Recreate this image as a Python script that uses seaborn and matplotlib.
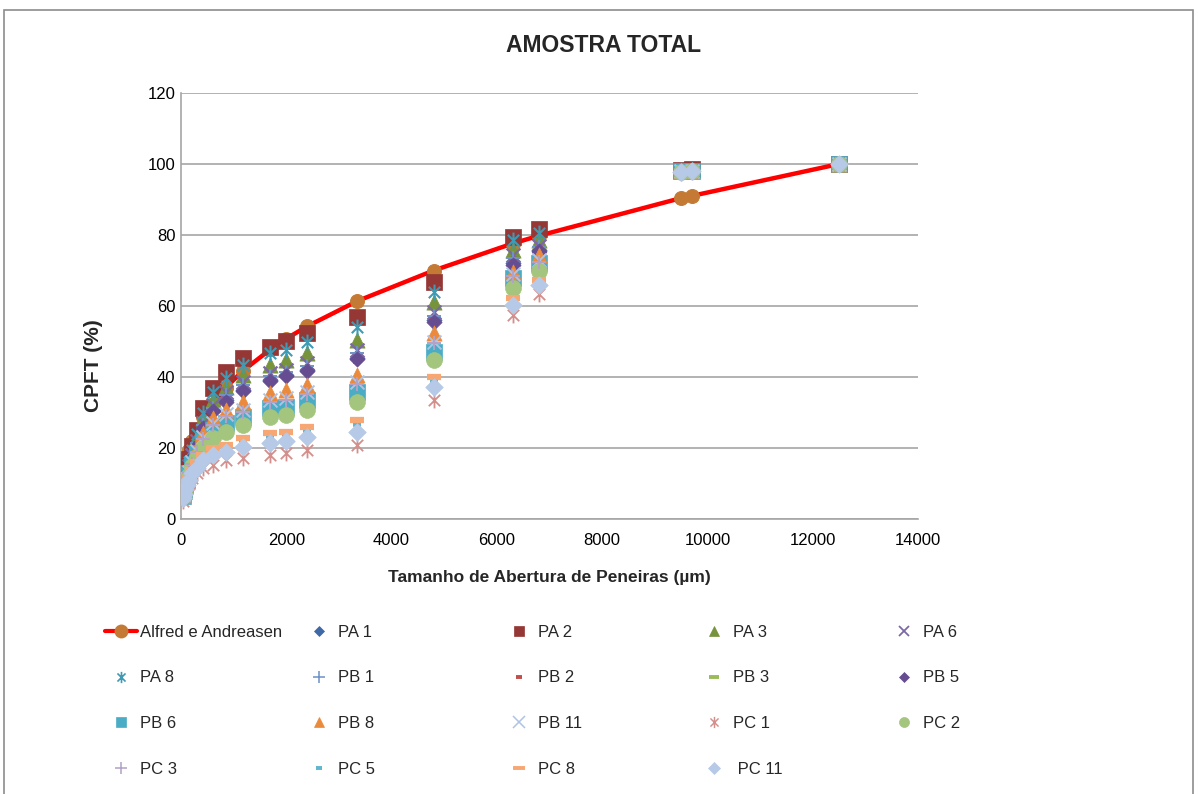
import matplotlib
matplotlib.use("Agg")
import matplotlib.pyplot as plt
import seaborn as sns
import pandas as pd
from matplotlib.lines import Line2D
from matplotlib.patches import Rectangle
from matplotlib.path import Path

# ---------------- data ----------------
sieves = [38, 53, 75, 106, 150, 212, 300, 425, 600, 850, 1180, 1700, 2000,
          2400, 3350, 4800, 6300, 6800, 9500, 9700, 12500]
andreasen = [11.7, 13.2, 15.1, 17.1, 19.5, 22.1, 25.2, 28.6, 32.5, 37.0, 41.8,
             47.8, 50.8, 54.3, 61.4, 70.0, 77.6, 79.8, 90.4, 91.0, 100]

pa1 = [7.5, 9, 10.5, 12, 14.5, 17.5, 21, 26, 30.7, 33.5, 36.3, 39.2, 40.6, 42, 45.4, 56, 72, 75.8, 98, 98, 100]
pa2 = [9, 11, 13.5, 15, 17, 20.5, 25, 31.2, 36.9, 41.4, 45.3, 48.5, 50.2, 52.4, 57, 66.8, 79.4, 81.7, 98.3, 98.5, 100]
pa3 = [8, 10, 11.5, 13, 15.5, 19, 23, 28.4, 33.5, 37.2, 40.6, 43.4, 44.8, 46.7, 50.4, 61.1, 75.8, 78.6, 98, 98.2, 100]
pa6 = [8, 9.5, 11, 12.5, 15, 18, 22, 27, 32, 35.8, 38.6, 41, 42, 44, 47.6, 58.3, 74.4, 77, 98, 98, 100]
pa8 = [8.5, 10.5, 12, 13.5, 16, 19.5, 24, 30, 35.8, 39.7, 43.4, 46.8, 47.6, 50, 54, 64, 78.6, 80.5, 98.2, 98.3, 100]
pb1 = [7.8, 9.3, 10.8, 12.3, 14.8, 17.8, 21.5, 26.5, 31.3, 35, 37.8, 40.2, 41.3, 43.2, 46.8, 57.3, 73.5, 76.5, 98, 98, 100]
pb2 = [7.5, 9, 10.5, 12, 14.5, 17.3, 21, 26, 30.5, 33.5, 36, 39, 40, 41.5, 44.6, 56, 72, 76, 98, 98, 100]
pb3 = [6.8, 8, 9.7, 11.2, 13.2, 15.7, 18.5, 21.5, 24.5, 26.5, 28.2, 30.5, 31, 33, 35.2, 46.5, 67, 71.5, 97.8, 98, 100]
pb5 = [7.3, 8.8, 10.3, 11.8, 14.2, 17.2, 20.7, 25.5, 30.3, 33, 36, 38.8, 40.2, 41.6, 45, 55.5, 71.5, 75.5, 98, 98, 100]
pb6 = [6.5, 8, 9.5, 11, 13, 15.5, 18.5, 22, 25, 27, 28.7, 31.2, 31.5, 33.5, 35.8, 47, 67.9, 72, 98, 98, 100]
pb8 = [7, 8.5, 10, 11.5, 13.5, 16.5, 20, 24.2, 28.4, 30.7, 33, 35.5, 36.3, 37.7, 40.5, 52.4, 69.6, 74.4, 98, 98, 100]
pb11 = [6.8, 8.2, 9.8, 11.2, 13.2, 16, 19.2, 23, 27, 29.5, 30.7, 33.5, 34, 35.8, 38.6, 50, 69, 73, 98, 98, 100]
pc1 = [5, 6, 7.5, 8.5, 10, 11.5, 13, 14.4, 15.2, 16.6, 17.2, 18, 18.6, 19.4, 20.8, 33.5, 57.5, 63.3, 97.5, 97.8, 100]
pc2 = [6.5, 7.5, 9, 10.5, 12.5, 15, 17.5, 20, 22.8, 24.5, 26.5, 28.7, 29.3, 30.7, 33, 44.8, 65, 70, 97.8, 98, 100]
pc3 = [6.6, 8, 9.5, 11, 13, 15.6, 18.8, 22.5, 26.5, 29, 30.2, 33, 33.5, 35.3, 38, 49.5, 68.5, 72.5, 98, 98, 100]
pc5 = [5.8, 6.8, 8, 9.2, 11, 13, 15.5, 17.5, 19.5, 20.3, 22.3, 23.5, 24, 25, 26.8, 39, 61.5, 67, 97.8, 98, 100]
pc8 = [6, 7, 8.3, 9.6, 11.5, 13.7, 16, 18, 20, 20.8, 22.8, 24.2, 24.5, 25.9, 27.9, 40, 62.3, 67.3, 97.8, 98, 100]
pc11 = [6, 7, 8.5, 9.5, 11, 13, 14.5, 16.6, 18, 18.9, 20.3, 21.4, 22, 23, 24.6, 37.3, 60.3, 66, 97.8, 98, 100]

series_names = ["PA 1", "PA 2", "PA 3", "PA 6", "PA 8", "PB 1", "PB 2", "PB 3", "PB 5",
                "PB 6", "PB 8", "PB 11", "PC 1", "PC 2", "PC 3", "PC 5", "PC 8", "PC 11"]
series_values = [pa1, pa2, pa3, pa6, pa8, pb1, pb2, pb3, pb5,
                 pb6, pb8, pb11, pc1, pc2, pc3, pc5, pc8, pc11]

x_ticks = [0, 2000, 4000, 6000, 8000, 10000, 12000, 14000]
y_ticks = [0, 20, 40, 60, 80, 100, 120]

# ---------------- styles ----------------
# Excel-like asterisk: vertical bar crossed by an X
ASTER = Path([(0, -1), (0, 1), (-0.72, -0.72), (0.72, 0.72), (-0.72, 0.72), (0.72, -0.72)],
             [Path.MOVETO, Path.LINETO, Path.MOVETO, Path.LINETO, Path.MOVETO, Path.LINETO])
LINEART = ("x", "+", "_", "aster")

styles = {
    "PA 1": dict(marker="D", color="#3F68A6", s=60, lw=0.5, ms=6),
    "PA 2": dict(marker="s", color="#953735", s=140, lw=0.5, ms=8),
    "PA 3": dict(marker="^", color="#77933C", s=120, lw=0.5, ms=8),
    "PA 6": dict(marker="x", color="#7B68A6", s=100, lw=1.6, ms=8),
    "PA 8": dict(marker="aster", color="#3E9BB5", s=130, lw=1.5, ms=9),
    "PB 1": dict(marker="+", color="#6F93C6", s=100, lw=1.4, ms=9),
    "PB 2": dict(marker="_", color="#C0504D", s=40, lw=4, ms=5),
    "PB 3": dict(marker="_", color="#9BBB59", s=80, lw=4, ms=8),
    "PB 5": dict(marker="D", color="#664D91", s=60, lw=0.5, ms=6),
    "PB 6": dict(marker="s", color="#4BACC6", s=130, lw=0.5, ms=8),
    "PB 8": dict(marker="^", color="#EB8A3C", s=120, lw=0.5, ms=8),
    "PB 11": dict(marker="x", color="#AFC3E3", s=100, lw=1.4, ms=9),
    "PC 1": dict(marker="aster", color="#D48E8B", s=130, lw=1.3, ms=9),
    "PC 2": dict(marker="o", color="#A4C57E", s=130, lw=0.5, ms=8),
    "PC 3": dict(marker="+", color="#B3A2C7", s=100, lw=1.4, ms=9),
    "PC 5": dict(marker="_", color="#5FB6D0", s=40, lw=4, ms=5),
    "PC 8": dict(marker="_", color="#F7A774", s=90, lw=4.5, ms=9),
    "PC 11": dict(marker="D", color="#B6C9E6", s=80, lw=0.5, ms=7),
}


def mk(m):
    return ASTER if m == "aster" else m


LINE_RED = "#FF0000"
CIRC = "#C47A34"
FONTS = ["Liberation Sans Narrow", "Liberation Sans", "DejaVu Sans"]

# ---------------- figure ----------------
sns.set_style("white")
plt.rcParams["font.family"] = FONTS

fig = plt.figure(figsize=(11.98, 7.94), dpi=100)
ax = fig.add_axes([181 / 1198, 1 - 519 / 794, (918 - 181) / 1198, (519 - 93) / 794])

# Andreasen curve
sns.lineplot(x=sieves, y=andreasen, ax=ax, color=LINE_RED, lw=3.2, sort=False,
             marker="o", markersize=10, markerfacecolor=CIRC, markeredgecolor=CIRC,
             zorder=2)

# sample series
for name, vals in zip(series_names, series_values):
    st = styles[name]
    df = pd.DataFrame({"x": sieves, "y": vals})
    sns.scatterplot(data=df, x="x", y="y", ax=ax, marker=mk(st["marker"]),
                    color=st["color"], edgecolor=st["color"], s=st["s"],
                    linewidth=st["lw"], zorder=3, legend=False)

ax.set_xlim(0, 14000)
ax.set_ylim(0, 120)
ax.set_xticks(x_ticks)
ax.set_yticks(y_ticks)
ax.set_xticklabels([str(v) for v in x_ticks])
ax.set_yticklabels([str(v) for v in y_ticks])
ax.tick_params(axis="both", length=0, labelsize=12, colors="black")
ax.tick_params(axis="x", pad=10)
ax.tick_params(axis="y", pad=4)
ax.yaxis.grid(True, color="#A6A6A6", lw=1.2)
ax.xaxis.grid(False)
ax.set_axisbelow(True)
for side in ["top", "right"]:
    ax.spines[side].set_visible(False)
for side in ["left", "bottom"]:
    ax.spines[side].set_color("#A6A6A6")
    ax.spines[side].set_linewidth(1.2)

ax.set_xlabel("Tamanho de Abertura de Peneiras (µm)", fontsize=12.5, fontweight="bold",
              family=FONTS)
ax.xaxis.set_label_coords(0.5, -0.12)
ax.set_ylabel("CPFT (%)", fontsize=15, fontweight="bold", family=FONTS)
ax.yaxis.set_label_coords(-0.106, 0.36)

fig.text(604 / 1198, 1 - 46 / 794, "AMOSTRA TOTAL", ha="center", va="center",
         fontsize=16.5, fontweight="bold")


# ---------------- legend (Excel style, row-major, 5 columns) ----------------
def handle_for(name):
    st = styles[name]
    m = st["marker"]
    filled = m not in LINEART
    return Line2D([], [], linestyle="none", marker=mk(m), markersize=st["ms"] * 0.9,
                  color=st["color"], markerfacecolor=st["color"] if filled else "none",
                  markeredgecolor=st["color"],
                  markeredgewidth=(0.5 if filled else min(st["lw"], 3.5) * 0.8))


alfred_handle = Line2D([], [], color=LINE_RED, lw=3, marker="o", markersize=9,
                       markerfacecolor=CIRC, markeredgecolor=CIRC)

entries = [("Alfred e Andreasen", alfred_handle)] + \
          [((" PC 11" if n == "PC 11" else n), handle_for(n)) for n in series_names]

col_x = [105, 303, 503, 698, 888]
ncols = 5
for c in range(ncols):
    col_entries = entries[c::ncols]
    hs = [e[1] for e in col_entries]
    ls = [e[0] for e in col_entries]
    fig.legend(handles=hs, labels=ls, loc="upper left",
               bbox_to_anchor=(col_x[c] / 1198, 1 - 625 / 794),
               frameon=False, fontsize=12, borderpad=0, borderaxespad=0,
               labelspacing=1.83, handlelength=1.9, handletextpad=0.2)

# outer chart border
fig.add_artist(Rectangle((4 / 1198, -0.02), 1189 / 1198, 1 - 10 / 794 + 0.02,
                         transform=fig.transFigure, fill=False,
                         edgecolor="#8C8C8C", lw=1.2))

fig.savefig("out.png", dpi=100)
